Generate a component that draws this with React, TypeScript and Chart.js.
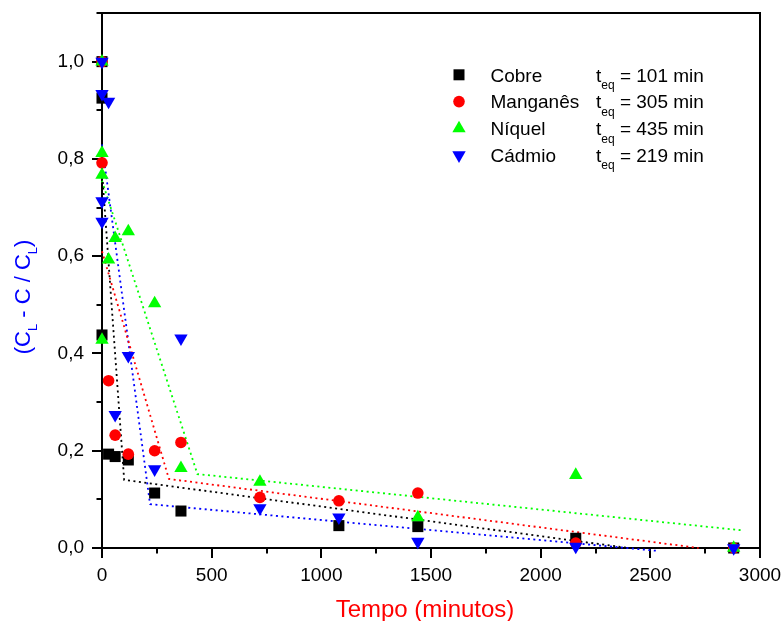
import React, { useEffect, useRef } from 'react';
import { Chart, registerables } from 'chart.js';

Chart.register(...registerables);

// ---- Data ----
const cobreX = [0, 0, 0, 30, 60, 120, 240, 360, 1080, 1440, 2160, 2880];
const cobreY = [1.0, 0.925, 0.438, 0.193, 0.188, 0.181, 0.113, 0.076, 0.046, 0.044, 0.02, 0.0];

const manganesX = [0, 0, 30, 60, 120, 240, 360, 720, 1080, 1440, 2160, 2880];
const manganesY = [1.0, 0.792, 0.344, 0.232, 0.193, 0.2, 0.217, 0.104, 0.097, 0.113, 0.01, 0.0];

const niquelX = [0, 0, 0, 0, 30, 60, 120, 240, 360, 720, 1440, 2160, 2880];
const niquelY = [1.0, 0.812, 0.767, 0.428, 0.593, 0.637, 0.651, 0.503, 0.164, 0.136, 0.063, 0.15, 0.0];

const cadmioX = [0, 0, 30, 0, 0, 60, 120, 240, 360, 720, 1080, 1440, 2160, 2880];
const cadmioY = [1.0, 0.934, 0.918, 0.713, 0.671, 0.274, 0.395, 0.162, 0.431, 0.082, 0.063, 0.013, 0.003, 0.0];

// two-segment fit lines (knee at t_eq)
const fitCobreX = [0, 101, 2400];
const fitCobreY = [0.775, 0.14, 0.0];
const fitManganesX = [0, 305, 2720];
const fitManganesY = [0.61, 0.142, 0.0];
const fitNiquelX = [0, 435, 2925];
const fitNiquelY = [0.755, 0.152, 0.036];
const fitCadmioX = [0, 219, 2535];
const fitCadmioY = [0.83, 0.09, -0.006];

const xTickValues = [0, 500, 1000, 1500, 2000, 2500, 3000];
const xMinorTicks = [250, 750, 1250, 1750, 2250, 2750];
const yTickValues = [0, 0.2, 0.4, 0.6, 0.8, 1.0];
const yMinorTicks = [0.1, 0.3, 0.5, 0.7, 0.9, 1.1];

const legendNames = ['Cobre', 'Manganês', 'Níquel', 'Cádmio'];
const teqValues = [101, 305, 435, 219];
const xTitle = 'Tempo (minutos)';

const FONT = "'Liberation Sans', Arial, Helvetica, sans-serif";
const BLACK = '#000000';
const RED = '#ff0000';
const GREEN = '#00ff00';
const BLUE = '#0000ff';
const COLORS = [BLACK, RED, GREEN, BLUE];

function toPoints(xs: number[], ys: number[]) {
  return xs.map((x, i) => ({ x, y: ys[i] }));
}

function drawMarker(ctx: CanvasRenderingContext2D, kind: number, cx: number, cy: number) {
  ctx.fillStyle = COLORS[kind];
  ctx.beginPath();
  if (kind === 0) {
    const s = 11;
    ctx.rect(cx - s / 2, cy - s / 2, s, s);
  } else if (kind === 1) {
    ctx.arc(cx, cy, 5.8, 0, Math.PI * 2);
  } else if (kind === 2) {
    const r = 7.7;
    ctx.moveTo(cx, cy - r);
    ctx.lineTo(cx + 0.866 * r, cy + 0.5 * r);
    ctx.lineTo(cx - 0.866 * r, cy + 0.5 * r);
    ctx.closePath();
  } else {
    const r = 7.7;
    ctx.moveTo(cx, cy + r);
    ctx.lineTo(cx + 0.866 * r, cy - 0.5 * r);
    ctx.lineTo(cx - 0.866 * r, cy - 0.5 * r);
    ctx.closePath();
  }
  ctx.fill();
}

const framePlugin = {
  id: 'frameTicks',
  beforeDatasetsDraw(chart: any) {
    const { ctx, chartArea: ca, scales } = chart;
    const xs = scales.x;
    const ys = scales.y;
    ctx.save();
    ctx.strokeStyle = BLACK;
    ctx.lineWidth = 2;
    ctx.strokeRect(ca.left, ca.top, ca.right - ca.left, ca.bottom - ca.top);
    ctx.beginPath();
    xTickValues.forEach((v) => {
      const p = Math.round(xs.getPixelForValue(v));
      ctx.moveTo(p, ca.bottom);
      ctx.lineTo(p, ca.bottom + 10);
    });
    xMinorTicks.forEach((v) => {
      const p = Math.round(xs.getPixelForValue(v));
      ctx.moveTo(p, ca.bottom);
      ctx.lineTo(p, ca.bottom + 5.5);
    });
    yTickValues.forEach((v) => {
      const p = Math.round(ys.getPixelForValue(v));
      ctx.moveTo(ca.left, p);
      ctx.lineTo(ca.left - 10, p);
    });
    yMinorTicks.forEach((v) => {
      const p = Math.round(ys.getPixelForValue(v));
      ctx.moveTo(ca.left, p);
      ctx.lineTo(ca.left - 5.5, p);
    });
    ctx.stroke();
    ctx.restore();
  },
  afterDraw(chart: any) {
    const { ctx } = chart;
    ctx.save();
    // Legend
    const baseline0 = 81.5;
    const step = 26.8;
    legendNames.forEach((name, i) => {
      const by = baseline0 + i * step;
      drawMarker(ctx, i, 459, by - 6.7);
      ctx.fillStyle = BLACK;
      ctx.textBaseline = 'alphabetic';
      ctx.textAlign = 'left';
      ctx.font = `19px ${FONT}`;
      ctx.fillText(name, 490.5, by);
      let tx = 596;
      ctx.fillText('t', tx, by);
      tx += ctx.measureText('t').width;
      ctx.font = `12px ${FONT}`;
      ctx.fillText('eq', tx, by + 7.5);
      tx += ctx.measureText('eq').width;
      ctx.font = `19px ${FONT}`;
      ctx.fillText(` = ${teqValues[i]} min`, tx, by);
    });

    // X title
    ctx.fillStyle = RED;
    ctx.font = `24px ${FONT}`;
    ctx.textAlign = 'center';
    ctx.textBaseline = 'alphabetic';
    ctx.fillText(xTitle, 425, 617);

    // Y title: (C_L - C / C_L)
    const parts: [string, boolean][] = [
      ['(C', false],
      ['L', true],
      [' - C / C', false],
      ['L', true],
      [')', false],
    ];
    const mainFont = `22px ${FONT}`;
    const subFont = `13px ${FONT}`;
    let total = 0;
    parts.forEach(([t, sub]) => {
      ctx.font = sub ? subFont : mainFont;
      total += ctx.measureText(t).width;
    });
    ctx.translate(30, 297);
    ctx.rotate(-Math.PI / 2);
    ctx.fillStyle = BLUE;
    ctx.textAlign = 'left';
    let lx = -total / 2;
    parts.forEach(([t, sub]) => {
      ctx.font = sub ? subFont : mainFont;
      ctx.fillText(t, lx, sub ? 7 : 0);
      lx += ctx.measureText(t).width;
    });
    ctx.restore();
  },
};

function zeroPadding(s: any) {
  s.paddingTop = 0;
  s.paddingBottom = 0;
  s.paddingLeft = 0;
  s.paddingRight = 0;
}

export default function App() {
  const ref = useRef<HTMLCanvasElement>(null);

  useEffect(() => {
    if (!ref.current) return;
    const fitStyle = (color: string) => ({
      showLine: true,
      pointRadius: 0,
      borderColor: color,
      backgroundColor: color,
      borderWidth: 1.8,
      borderDash: [2, 3.5],
      fill: false,
      clip: false as any,
    });
    const chart = new Chart(ref.current, {
      type: 'scatter',
      data: {
        datasets: [
          {
            label: 'Cobre',
            data: toPoints(cobreX, cobreY),
            pointStyle: 'rect',
            pointRadius: 7.8,
            backgroundColor: BLACK,
            borderColor: BLACK,
            borderWidth: 0,
            order: 4,
            clip: false as any,
          },
          {
            label: 'Manganês',
            data: toPoints(manganesX, manganesY),
            pointStyle: 'circle',
            pointRadius: 5.8,
            backgroundColor: RED,
            borderColor: RED,
            borderWidth: 0,
            order: 3,
            clip: false as any,
          },
          {
            label: 'Níquel',
            data: toPoints(niquelX, niquelY),
            pointStyle: 'triangle',
            pointRadius: 7.7,
            backgroundColor: GREEN,
            borderColor: GREEN,
            borderWidth: 0,
            order: 2,
            clip: false as any,
          },
          {
            label: 'Cádmio',
            data: toPoints(cadmioX, cadmioY),
            pointStyle: 'triangle',
            rotation: 180,
            pointRadius: 7.7,
            backgroundColor: BLUE,
            borderColor: BLUE,
            borderWidth: 0,
            order: 1,
            clip: false as any,
          },
          { label: 'fitCobre', data: toPoints(fitCobreX, fitCobreY), ...fitStyle(BLACK), order: 10 },
          { label: 'fitManganes', data: toPoints(fitManganesX, fitManganesY), ...fitStyle(RED), order: 11 },
          { label: 'fitNiquel', data: toPoints(fitNiquelX, fitNiquelY), ...fitStyle(GREEN), order: 12 },
          { label: 'fitCadmio', data: toPoints(fitCadmioX, fitCadmioY), ...fitStyle(BLUE), order: 13 },
        ] as any,
      },
      options: {
        animation: false,
        responsive: false,
        devicePixelRatio: 1,
        layout: { padding: { left: 0, right: 24, top: 13, bottom: 0 } },
        plugins: {
          legend: { display: false },
          tooltip: { enabled: false },
          title: { display: false },
        },
        events: [],
        scales: {
          x: {
            type: 'linear',
            min: 0,
            max: 3000,
            grid: { display: false, drawTicks: false },
            border: { display: false },
            afterBuildTicks: (s: any) => {
              s.ticks = xTickValues.map((v) => ({ value: v }));
            },
            afterFit: (s: any) => {
              s.height = 73;
              zeroPadding(s);
            },
            ticks: {
              color: BLACK,
              font: { family: FONT, size: 19 },
              padding: 16,
              maxRotation: 0,
              autoSkip: false,
              callback: (v: any) => String(v),
            },
          },
          y: {
            type: 'linear',
            min: 0,
            max: 1.1,
            grid: { display: false, drawTicks: false },
            border: { display: false },
            afterBuildTicks: (s: any) => {
              s.ticks = yTickValues.map((v) => ({ value: v }));
            },
            afterFit: (s: any) => {
              s.width = 102;
              zeroPadding(s);
            },
            ticks: {
              color: BLACK,
              font: { family: FONT, size: 19 },
              padding: 18,
              autoSkip: false,
              callback: (v: any) => Number(v).toFixed(1).replace('.', ','),
            },
          },
        },
      } as any,
      plugins: [framePlugin],
    });
    return () => chart.destroy();
  }, []);

  return (
    <div style={{ position: 'fixed', left: 0, top: 0, width: 784, height: 621, background: '#ffffff' }}>
      <canvas ref={ref} width={784} height={621} style={{ display: 'block', width: 784, height: 621 }} />
    </div>
  );
}
